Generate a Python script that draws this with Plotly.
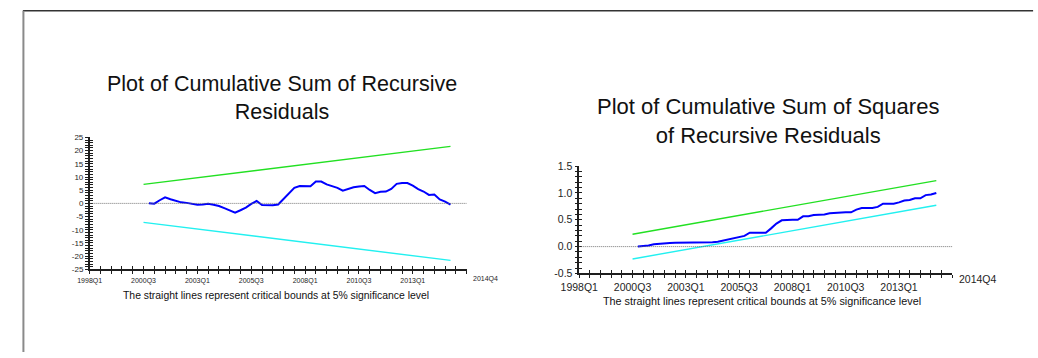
import pandas as pd
import plotly.graph_objects as go

# ---------------------------------------------------------------------------
# Data: recursive-residual stability tests, quarterly sample
# ---------------------------------------------------------------------------
BASE_PERIOD = "1998Q1"
AXIS_END_PERIOD = "2015Q3"          # right end of the time axis
END_LABEL = "2014Q4"                # label printed at the axis end

resid_periods = [str(p) for p in pd.period_range("2000Q4", "2014Q4", freq="Q")]
bound_periods = ["2000Q3", "2014Q4"]

cusum = [0.1, -0.1, 1.2, 2.3, 1.6, 1.0, 0.4, 0.2, -0.2, -0.5,
         -0.4, -0.1, -0.5, -1.0, -1.8, -2.8, -3.5, -2.6, -1.6, -0.2,
         0.9, -0.6, -0.7, -0.7, -0.4, 1.8, 4.0, 5.9, 6.6, 6.5,
         6.5, 8.3, 8.3, 7.2, 6.6, 5.9, 4.8, 5.5, 6.1, 6.4,
         6.6, 5.1, 3.9, 4.4, 4.5, 5.5, 7.4, 7.7, 7.7, 6.7,
         5.4, 4.5, 3.2, 3.4, 1.5, 0.7, -0.5]
cusum_upper = [7.2, 21.6]
cusum_lower = [-7.2, -21.6]

cusumsq = [0.0, 0.005, 0.02, 0.045, 0.055, 0.06, 0.065, 0.07, 0.07, 0.07,
           0.072, 0.074, 0.075, 0.076, 0.08, 0.09, 0.11, 0.13, 0.15, 0.18,
           0.20, 0.26, 0.26, 0.26, 0.26, 0.34, 0.43, 0.49, 0.50, 0.50,
           0.50, 0.565, 0.565, 0.59, 0.595, 0.60, 0.62, 0.63, 0.64, 0.64,
           0.64, 0.69, 0.72, 0.72, 0.72, 0.74, 0.80, 0.80, 0.80, 0.825,
           0.86, 0.87, 0.90, 0.90, 0.96, 0.97, 1.0]
cusumsq_upper = [0.23, 1.23]
cusumsq_lower = [-0.23, 0.77]

x_tick_periods = ["1998Q1", "2000Q3", "2003Q1", "2005Q3", "2008Q1", "2010Q3", "2013Q1"]

cusum_yticks = [-25, -20, -15, -10, -5, 0, 5, 10, 15, 20, 25]
cusum_yticktext = ["-25", "-20", "-15", "-10", "-5", "0", "5", "10", "15", "20", "25"]
cusumsq_yticks = [-0.5, 0.0, 0.5, 1.0, 1.5]
cusumsq_yticktext = ["-0.5", "0.0", "0.5", "1.0", "1.5"]

TITLE_LEFT = "Plot of Cumulative Sum of Recursive<br>Residuals"
TITLE_RIGHT = "Plot of Cumulative Sum of Squares<br>of Recursive Residuals"
NOTE = "The straight lines represent critical bounds at 5% significance level"


def qpos(period):
    """Quarter offset from the first quarter on the axis."""
    return (pd.Period(period, freq="Q") - pd.Period(BASE_PERIOD, freq="Q")).n


x_resid = [qpos(p) for p in resid_periods]
x_bound = [qpos(p) for p in bound_periods]
x_ticks = [qpos(p) for p in x_tick_periods]
x_max = qpos(AXIS_END_PERIOD)

# ---------------------------------------------------------------------------
# Styling
# ---------------------------------------------------------------------------
W, H = 1038, 358
FONT = "Arial, 'Liberation Sans', sans-serif"
INK = "#1e1e1e"
BLUE = "#0000ff"
GREEN = "#22e022"
CYAN = "#22f0f0"


def px_x(px):
    return px / W


def px_y(py):
    return 1 - py / H


panels = [
    dict(x="x", y="y", ox="x3", oy="y3",
         xdom=[px_x(72), px_x(456)], ydom=[px_y(272.5), px_y(136)],
         yrange=[-25, 25], yticks=cusum_yticks, yticktext=cusum_yticktext,
         yminor=1, xfont=7, yfont=8,
         series=cusum, upper=cusum_upper, lower=cusum_lower,
         title=TITLE_LEFT, title_size=21.5, title_x=268, title_y=95.5,
         note_x=262, note_y=300, note_size=10.4, end_y=282, end_shift=4),
    dict(x="x2", y="y2", ox="x4", oy="y4",
         xdom=[px_x(570.7), px_x(950.7)], ydom=[px_y(276.7), px_y(165.7)],
         yrange=[-0.5, 1.5], yticks=cusumsq_yticks, yticktext=cusumsq_yticktext,
         yminor=0.1, xfont=10.5, yfont=10.5,
         series=cusumsq, upper=cusumsq_upper, lower=cusumsq_lower,
         title=TITLE_RIGHT, title_size=22, title_x=763, title_y=119.5,
         note_x=757, note_y=305, note_size=10.8, end_y=282, end_shift=5),
]

fig = go.Figure()
annotations = []
shapes = []
layout_axes = {}


def axis_key(name):
    return ("xaxis" if name[0] == "x" else "yaxis") + name[1:]


for p in panels:
    # critical bounds and the statistic itself
    fig.add_trace(go.Scatter(x=x_bound, y=p["upper"], mode="lines",
                             line=dict(color=GREEN, width=1.4),
                             xaxis=p["x"], yaxis=p["y"], showlegend=False))
    fig.add_trace(go.Scatter(x=x_bound, y=p["lower"], mode="lines",
                             line=dict(color=CYAN, width=1.4),
                             xaxis=p["x"], yaxis=p["y"], showlegend=False))
    fig.add_trace(go.Scatter(x=x_resid, y=p["series"], mode="lines",
                             line=dict(color=BLUE, width=2),
                             xaxis=p["x"], yaxis=p["y"], showlegend=False))
    # companion axes carrying the inward half of each tick mark
    fig.add_trace(go.Scatter(x=[], y=[], xaxis=p["ox"], yaxis=p["oy"],
                             showlegend=False, hoverinfo="skip"))

    common = dict(showgrid=False, zeroline=False, tickcolor=INK, tickwidth=1)
    layout_axes[axis_key(p["x"])] = dict(
        domain=p["xdom"], range=[0, x_max], anchor=p["y"],
        tickmode="array", tickvals=x_ticks, ticktext=x_tick_periods,
        ticks="outside", ticklen=3, showline=True, linecolor=INK, linewidth=1.5,
        tickfont=dict(family=FONT, size=p["xfont"], color=INK),
        minor=dict(ticks="outside", ticklen=3, dtick=2, tick0=0,
                   tickcolor=INK, showgrid=False),
        **common)
    layout_axes[axis_key(p["y"])] = dict(
        domain=p["ydom"], range=p["yrange"], anchor=p["x"],
        tickmode="array", tickvals=p["yticks"], ticktext=p["yticktext"],
        ticks="outside", ticklen=3, showline=True, linecolor=INK, linewidth=1.5,
        tickfont=dict(family=FONT, size=p["yfont"], color=INK),
        minor=dict(ticks="outside", ticklen=3, dtick=p["yminor"],
                   tick0=p["yrange"][0], tickcolor=INK, showgrid=False),
        **common)
    layout_axes[axis_key(p["ox"])] = dict(
        overlaying=p["x"], anchor=p["oy"], range=[0, x_max],
        tickmode="array", tickvals=x_ticks, ticks="inside", ticklen=3,
        showticklabels=False, showline=False,
        minor=dict(ticks="inside", ticklen=3, dtick=2, tick0=0,
                   tickcolor=INK, showgrid=False),
        **common)
    layout_axes[axis_key(p["oy"])] = dict(
        overlaying=p["y"], anchor=p["ox"], range=p["yrange"],
        tickmode="array", tickvals=p["yticks"], ticks="inside", ticklen=3,
        showticklabels=False, showline=False,
        minor=dict(ticks="inside", ticklen=3, dtick=p["yminor"],
                   tick0=p["yrange"][0], tickcolor=INK, showgrid=False),
        **common)

    # fine dotted zero reference line across the whole time axis
    shapes.append(dict(type="line", xref=p["x"], yref=p["y"],
                       x0=0, x1=x_max, y0=0, y1=0,
                       line=dict(color="#666666", width=0.9, dash="1px,1px")))

    annotations.append(dict(text=p["title"], xref="paper", yref="paper",
                            x=px_x(p["title_x"]), y=px_y(p["title_y"]),
                            xanchor="center", yanchor="middle", showarrow=False,
                            font=dict(family=FONT, size=p["title_size"], color="#111111")))
    annotations.append(dict(text=NOTE, xref="paper", yref="paper",
                            x=px_x(p["note_x"]), y=px_y(p["note_y"]),
                            xanchor="center", yanchor="middle", showarrow=False,
                            font=dict(family=FONT, size=p["note_size"], color="#111111")))
    annotations.append(dict(text=END_LABEL, xref=p["x"], yref="paper",
                            x=x_max, y=px_y(p["end_y"]), xshift=p["end_shift"],
                            xanchor="left", yanchor="middle", showarrow=False,
                            font=dict(family=FONT, size=p["xfont"], color=INK)))

# page frame (top and left edges)
shapes.append(dict(type="line", xref="paper", yref="paper",
                   x0=px_x(4), x1=px_x(1033), y0=px_y(5), y1=px_y(5),
                   line=dict(color="#333333", width=1.5)))
shapes.append(dict(type="line", xref="paper", yref="paper",
                   x0=px_x(4.5), x1=px_x(4.5), y0=px_y(5), y1=px_y(358),
                   line=dict(color="#8a8a8a", width=2)))

fig.update_layout(
    width=W, height=H, autosize=False,
    margin=dict(l=0, r=0, t=0, b=0, pad=0),
    paper_bgcolor="white", plot_bgcolor="white",
    showlegend=False,
    annotations=annotations, shapes=shapes,
    **layout_axes,
)

fig.write_html("out.html",
               post_script="document.body.style.margin='0';"
                           "document.body.style.overflow='hidden';")
